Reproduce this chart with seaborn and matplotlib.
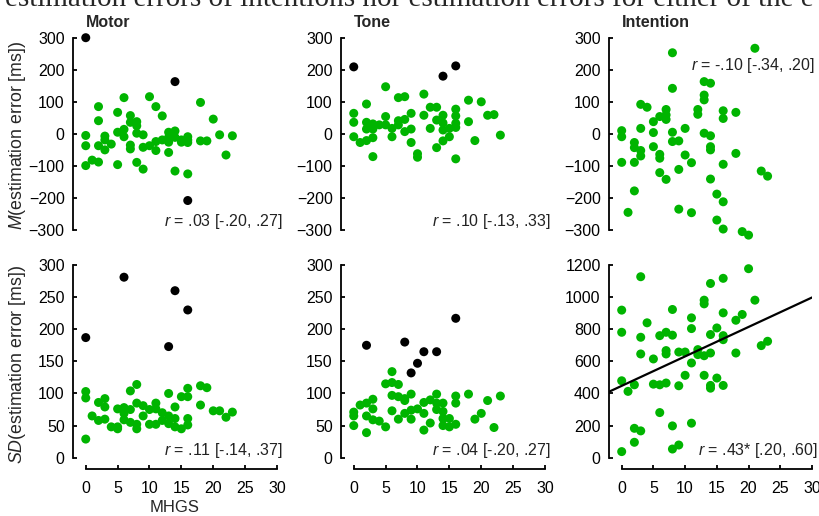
import matplotlib
matplotlib.use('Agg')
import matplotlib.pyplot as plt
import pandas as pd
import seaborn as sns

# MHGS scores and estimation errors
# green = included participants, black = excluded outliers

# Motor, mean error
motor_m_x = [0, 0, 0, 1, 2, 2, 2, 2, 3, 3, 3, 4, 5, 5, 5, 6, 6, 6, 7, 7, 7, 7, 8, 8, 8, 8, 9, 9, 9,
             10, 10, 11, 11, 11, 12, 12, 13, 13, 13, 13, 14, 14, 14, 15, 15, 16, 16, 16, 16, 18, 18,
             19, 20, 21, 22, 23]
motor_m_y = [-5, -37, -99, -82, 85, 41, -37, -88, -7, -19, -50, -32, 67, 5, -96, 113, 14, -9, 57, 36,
             -35, -47, 38, 25, 2, -89, -3, -42, -110, 116, -37, 85, -24, -52, 56, -19, 5, -11, -26,
             -58, 9, -11, -116, -19, -26, -9, -19, -27, -125, 98, -22, -22, 46, -3, -66, -6]
motor_m_out_x = [0, 14, 16]
motor_m_out_y = [300, 163, -208]

# Motor, SD of error
motor_sd_x = [0, 0, 0, 1, 2, 2, 3, 3, 3, 4, 5, 5, 5, 6, 6, 6, 7, 7, 7, 8, 8, 8, 8, 9, 9, 10, 10,
              11, 11, 11, 12, 12, 13, 13, 13, 14, 14, 14, 15, 15, 16, 16, 16, 16, 18, 18, 19, 20,
              21, 22, 23]
motor_sd_y = [103, 93, 29, 65, 86, 58, 92, 79, 60, 48, 76, 48, 45, 78, 69, 59, 104, 75, 55, 114, 85,
              52, 45, 81, 65, 75, 52, 85, 76, 52, 70, 58, 100, 65, 53, 79, 61, 48, 95, 45, 108, 95,
              61, 51, 112, 82, 109, 73, 73, 63, 71]
motor_sd_out_x = [0, 6, 14, 16, 13]
motor_sd_out_y = [187, 281, 260, 230, 173]

# Tone, mean error
tone_m_x = [0, 0, 0, 1, 2, 2, 2, 2, 3, 3, 3, 3, 4, 5, 5, 5, 6, 6, 7, 7, 7, 8, 8, 8, 9, 9, 9, 10, 10,
            11, 11, 12, 12, 13, 13, 13, 14, 14, 14, 14, 15, 15, 16, 16, 16, 16, 16, 18, 18, 19, 20,
            21, 22, 23]
tone_m_y = [64, 36, -9, -27, 93, 36, 15, -21, 31, 15, -12, -71, 28, 147, 54, 28, 17, -9, 113, 41, 28,
            116, 45, 7, 64, 15, -27, -62, -73, 124, 58, 83, 17, 83, 43, -43, 58, 34, 12, -22, 17, -9,
            77, 56, 33, 20, -78, 105, 38, -21, 100, 58, 60, -4]
tone_m_out_x = [0, 14, 16]
tone_m_out_y = [209, 180, 212]

# Tone, SD of error
tone_sd_x = [0, 0, 0, 1, 2, 2, 2, 3, 3, 3, 4, 5, 5, 6, 6, 6, 6, 7, 7, 7, 8, 8, 8, 9, 9, 9, 10, 11,
             11, 11, 12, 12, 13, 13, 13, 14, 14, 14, 14, 15, 15, 16, 16, 16, 18, 19, 20, 21, 22, 23]
tone_sd_y = [71, 65, 50, 82, 85, 65, 39, 91, 76, 59, 57, 115, 48, 134, 117, 97, 73, 114, 95, 60, 92,
             89, 69, 99, 74, 60, 76, 86, 69, 43, 90, 54, 99, 85, 75, 85, 72, 61, 50, 61, 48, 96, 85,
             52, 99, 60, 69, 89, 47, 96]
tone_sd_out_x = [2, 8, 9, 10, 11, 13, 16]
tone_sd_out_y = [175, 180, 132, 147, 165, 165, 217]

# Intention, mean error
intent_m_x = [0, 0, 0, 1, 2, 2, 2, 2, 3, 3, 3, 3, 4, 5, 5, 5, 6, 6, 6, 6, 7, 7, 7, 7, 8, 8, 8, 8, 9,
              9, 9, 10, 10, 11, 11, 12, 12, 13, 13, 13, 13, 14, 14, 14, 14, 14, 15, 15, 16, 16, 16,
              16, 16, 18, 18, 19, 20, 21, 22, 23]
intent_m_y = [10, -9, -89, -245, -27, -43, -89, -178, 92, 17, -52, -69, 83, 38, 4, -40, 54, -64, -76,
              -121, 76, 59, 45, -142, 253, 142, 5, -24, -22, -111, -235, 17, -66, -90, -246, 76, 61,
              163, 121, 106, 2, 158, -6, -40, -50, -141, -188, -269, 72, 48, -95, -212, -297, 67,
              -61, -305, -316, 267, -116, -132]

# Intention, SD of error
intent_sd_x = [0, 0, 0, 0, 1, 2, 2, 2, 3, 3, 3, 3, 4, 5, 5, 6, 6, 6, 7, 7, 7, 7, 8, 8, 8, 8, 9, 9,
               9, 10, 10, 11, 11, 11, 11, 12, 12, 13, 13, 13, 13, 14, 14, 14, 14, 14, 15, 15, 16,
               16, 16, 16, 16, 18, 18, 19, 20, 21, 22, 23]
intent_sd_y = [919, 781, 479, 38, 413, 454, 183, 96, 1127, 750, 646, 167, 840, 615, 458, 760, 454,
               281, 781, 667, 646, 465, 923, 763, 198, 54, 658, 448, 79, 658, 513, 871, 804, 590,
               215, 673, 642, 981, 958, 635, 513, 1085, 767, 652, 450, 433, 808, 496, 1117, 902,
               760, 735, 450, 856, 652, 892, 1177, 981, 698, 725]

titles = ['Motor', 'Tone', 'Intention']
r_labels = [['.03 [-.20, .27]', '.10 [-.13, .33]', '-.10 [-.34, .20]'],
            ['.11 [-.14, .37]', '.04 [-.20, .27]', '.43* [.20, .60]']]
caption = 'estimation errors of intentions nor estimation errors for either of the e'

GREEN = '#00b400'

sns.set_style('ticks')
plt.rcParams['font.family'] = ['Liberation Sans', 'DejaVu Sans']
plt.rcParams['mathtext.fontset'] = 'custom'
plt.rcParams['mathtext.rm'] = 'Liberation Sans'
plt.rcParams['mathtext.it'] = 'Liberation Sans:italic'

W, H = 820, 516
fig = plt.figure(figsize=(W / 100, H / 100), dpi=100)


def make_df(x, y, out_x=(), out_y=()):
    a = pd.DataFrame({'mhgs': x, 'err': y, 'group': 'in'})
    b = pd.DataFrame({'mhgs': list(out_x), 'err': list(out_y), 'group': 'out'})
    return pd.concat([a, b], ignore_index=True)


data = [[make_df(motor_m_x, motor_m_y, motor_m_out_x, motor_m_out_y),
         make_df(tone_m_x, tone_m_y, tone_m_out_x, tone_m_out_y),
         make_df(intent_m_x, intent_m_y)],
        [make_df(motor_sd_x, motor_sd_y, motor_sd_out_x, motor_sd_out_y),
         make_df(tone_sd_x, tone_sd_y, tone_sd_out_x, tone_sd_out_y),
         make_df(intent_sd_x, intent_sd_y)]]

# panel placement in pixels
col_left = [73, 341, 609]
col_right = [277, 545, 812]
row_top = [37.7, 265]
row_bottom = [230, 469]

for row in range(2):
    for col in range(3):
        l, r = col_left[col], col_right[col]
        t, b = row_top[row], row_bottom[row]
        ax = fig.add_axes([l / W, 1 - b / H, (r - l) / W, (b - t) / H])
        df = data[row][col]
        sns.scatterplot(data=df, x='mhgs', y='err', hue='group',
                        palette={'in': GREEN, 'out': 'black'}, s=42, linewidth=0,
                        legend=False, ax=ax, clip_on=False, zorder=3)
        ax.set_xlim(-2, 30)

        if row == 0:
            ymin, ymax, step = -300, 300, 100
            ax.set_ylim(ymin, ymax)
        else:
            ymin, ymax = 0, (1200 if col == 2 else 300)
            step = 200 if col == 2 else 50
            ax.set_ylim(-ymax * 11.3 / (b - t - 11.3), ymax)
        ax.set_yticks(range(ymin, ymax + 1, step))
        ax.spines['left'].set_bounds(ymin, ymax)
        sns.despine(ax=ax)

        if row == 0:
            ax.spines['bottom'].set_visible(False)
            ax.set_xticks([])
        else:
            ax.set_xticks(range(0, 31, 5))
            ax.spines['bottom'].set_bounds(0, 30)

        if row == 1 and col == 2:
            sns.regplot(data=df, x='mhgs', y='err', scatter=False, ci=None, truncate=False,
                        color='black', line_kws={'lw': 1.6, 'zorder': 4}, ax=ax)
            ax.set_xlim(-2, 30)

        for sp in ax.spines.values():
            sp.set_linewidth(1.3)
            sp.set_color('black')
        ax.tick_params(axis='both', direction='in', length=3, width=1.3,
                       labelsize=11.5, colors='black')
        ax.tick_params(axis='y', pad=6)
        ax.tick_params(axis='x', pad=8.5)
        ax.set_xlabel('')
        ax.set_ylabel('')

        if row == 0:
            ax.annotate(titles[col], xy=(0, 1), xycoords=('data', 'axes fraction'),
                        xytext=(0, 11), textcoords='offset points',
                        ha='left', va='center', fontsize=11.5, fontweight='bold')

        if row == 0 and col == 2:
            tx, ty = 1.015, 0.853
        else:
            tx, ty = 1.03, (0.042 if row == 0 else 0.093)
        ax.text(tx, ty, r'$\mathit{r}$ = ' + r_labels[row][col], transform=ax.transAxes,
                ha='right', va='center', fontsize=11.5, color='#222222')

        if row == 1 and col == 0:
            ax.set_xlabel('MHGS', fontsize=12, labelpad=3)

fig.text(18 / W, 1 - 135 / H, r'$\mathit{M}$(estimation error [ms])', rotation=90,
         ha='center', va='center', fontsize=12.8)
fig.text(18 / W, 1 - 364 / H, r'$\mathit{SD}$(estimation error [ms])', rotation=90,
         ha='center', va='center', fontsize=12.8)
fig.text(5 / W, 1 - 5.5 / H, caption, ha='left', va='baseline', fontsize=21,
         family=['Liberation Serif', 'DejaVu Serif'])

plt.savefig('out.png', dpi=100)
plt.close()
